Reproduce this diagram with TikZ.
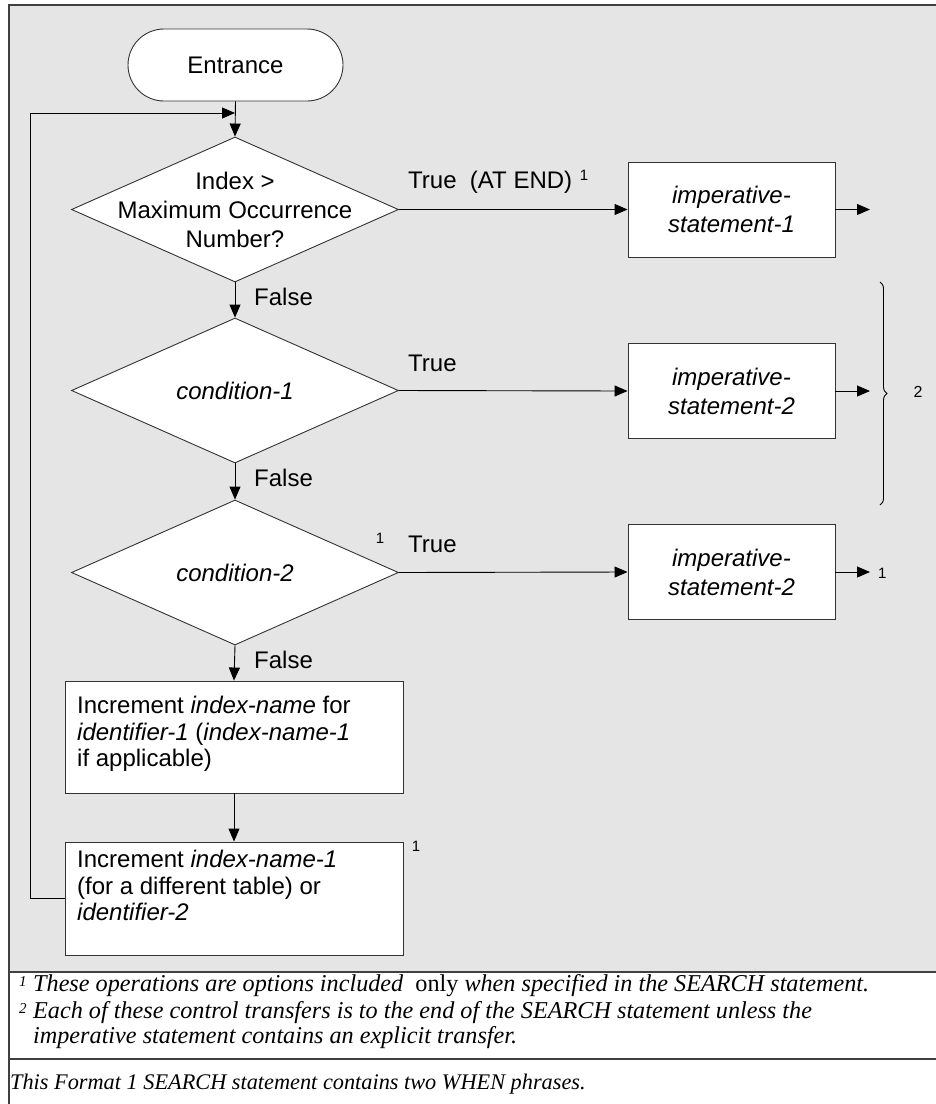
\documentclass[tikz,border=0pt]{standalone}
\usepackage{fontspec}
\setmainfont{Liberation Serif}
\setsansfont{Liberation Sans}
\usetikzlibrary{shapes.geometric,arrows.meta,decorations.pathreplacing}
\begin{document}
\begin{tikzpicture}[x=1pt,y=-1pt,
  flow/.style={font=\sffamily\fontsize{24}{29}\selectfont},
  flowb/.style={font=\sffamily\fontsize{24}{26.5}\selectfont},
  box/.style={draw=black!80, fill=white, line width=0.9pt, minimum width=207pt, minimum height=95pt, inner sep=0pt, align=center, flow},
  dia/.style={diamond, draw=black!80, fill=white, line width=0.9pt, minimum width=327pt, minimum height=145pt, inner sep=0pt},
  arr/.style={line width=0.9pt, -{Triangle[length=13pt,width=11pt]}},
  lbl/.style={flow, anchor=west, inner sep=0pt},
  small/.style={font=\sffamily\fontsize{15}{15}\selectfont, inner sep=0pt},
  fn/.style={font=\rmfamily\itshape\fontsize{24.2}{25}\selectfont, anchor=base west, inner sep=0pt},
  fnlast/.style={font=\rmfamily\itshape\fontsize{22.3}{25}\selectfont, anchor=base west, inner sep=0pt},
  fnsup/.style={font=\rmfamily\itshape\fontsize{15}{15}\selectfont, inner sep=0pt},
  frame/.style={line width=1.2pt, black!75}
]
\useasboundingbox (0,0) rectangle (936,1104);
\fill[gray!20] (9,5) rectangle (936,972);
\draw[frame] (9,1104) -- (9,5) -- (936,5);
\draw[frame] (9,972) -- (936,972);
\draw[frame] (9,1059) -- (936,1059);

% nodes
\node[draw=black!80, fill=white, line width=0.9pt, rounded corners=36pt, minimum width=215pt, minimum height=72pt, flow] (ent) at (235.5,65) {Entrance};
\node[dia, label={[flow, align=center]center:{Index >\\Maximum Occurrence\\Number?}}] (d1) at (235,209.5) {};
\node[dia, label={[flow]center:\textit{condition-1}}] (d2) at (235,390.5) {};
\node[dia, label={[flow]center:\textit{condition-2}}] (d3) at (235,572.5) {};

\node[box] (b1) at (731.5,209.5) {\textit{imperative-}\\\textit{statement-1}};
\node[box] (b2) at (731.5,391) {\textit{imperative-}\\\textit{statement-2}};
\node[box] (b3) at (731.5,572) {\textit{imperative-}\\\textit{statement-2}};

\node[box, minimum width=338pt, minimum height=112pt] (b4) at (234,737) {};
\node[flowb, anchor=north west, align=left, inner sep=0pt] (b4t) at (77,696) {Increment \textit{index-name} for\\\textit{identifier-1} (\textit{index-name-1}\\if applicable)};
\node[box, minimum width=338pt, minimum height=113pt] (b5) at (234,898.5) {};
\node[flowb, anchor=north west, align=left, inner sep=0pt] (b5t) at (77,850) {Increment \textit{index-name-1}\\(for a different table) or\\\textit{identifier-2}};

% coordinates
\coordinate (jn) at (235,113);
\coordinate (lb) at (30,898.5);
\coordinate (lt) at (30,113);
\coordinate (e1) at (870,209.5);
\coordinate (e2) at (870,391);
\coordinate (e3) at (870,572);
\coordinate (br1) at (880,282);
\coordinate (br2) at (880,505);

% connectors
\draw[arr] (ent.south) -- (d1.north);
\draw[arr] (b5.west) -- (lb) -- (lt) -- (jn);
\draw[arr] (d1.south) -- (d2.north);
\draw[arr] (d2.south) -- (d3.north);
\draw[arr] (d3.south) -- (b4.north);
\draw[arr] (b4.south) -- (b5.north);
\draw[arr] (d1.east) -- (b1.west);
\draw[arr] (d2.east) -- (b2.west);
\draw[arr] (d3.east) -- (b3.west);
\draw[arr] (b1.east) -- (e1);
\draw[arr] (b2.east) -- (e2);
\draw[arr] (b3.east) -- (e3);
\draw[decorate, decoration={brace, amplitude=7pt}, line width=0.9pt] (br1) -- (br2);

% labels
\node[lbl] (t1) at (408,182) {True\ \ (AT END)};
\node[small] (t1s) at (584,175) {1};
\node[lbl] (t2) at (408,363) {True};
\node[lbl] (t3) at (408,544) {True};
\node[small] (t3s) at (380,538) {1};
\node[lbl] (f1) at (254,297) {False};
\node[lbl] (f2) at (254,478) {False};
\node[lbl] (f3) at (254,660) {False};
\node[small] (s5) at (416,846) {1};
\node[small, anchor=west] (s3) at (878,573) {1};
\node[font=\sffamily\fontsize{16}{16}\selectfont, inner sep=0pt] (s2) at (918,392) {2};

% footnotes
\node[fnsup] (n1) at (23,982) {1};
\node[fn] (fn1) at (33,991) {These operations are options included\ \ \textup{only} when specified in the SEARCH statement.};
\node[fnsup] (n2) at (23,1009) {2};
\node[fn] (fn2) at (33,1018) {Each of these control transfers is to the end of the SEARCH statement unless the};
\node[fn] (fn2b) at (33,1043) {imperative statement contains an explicit transfer.};
\node[fnlast] (fn3) at (10,1089) {This Format 1 SEARCH statement contains two WHEN phrases.};
\end{tikzpicture}
\end{document}
